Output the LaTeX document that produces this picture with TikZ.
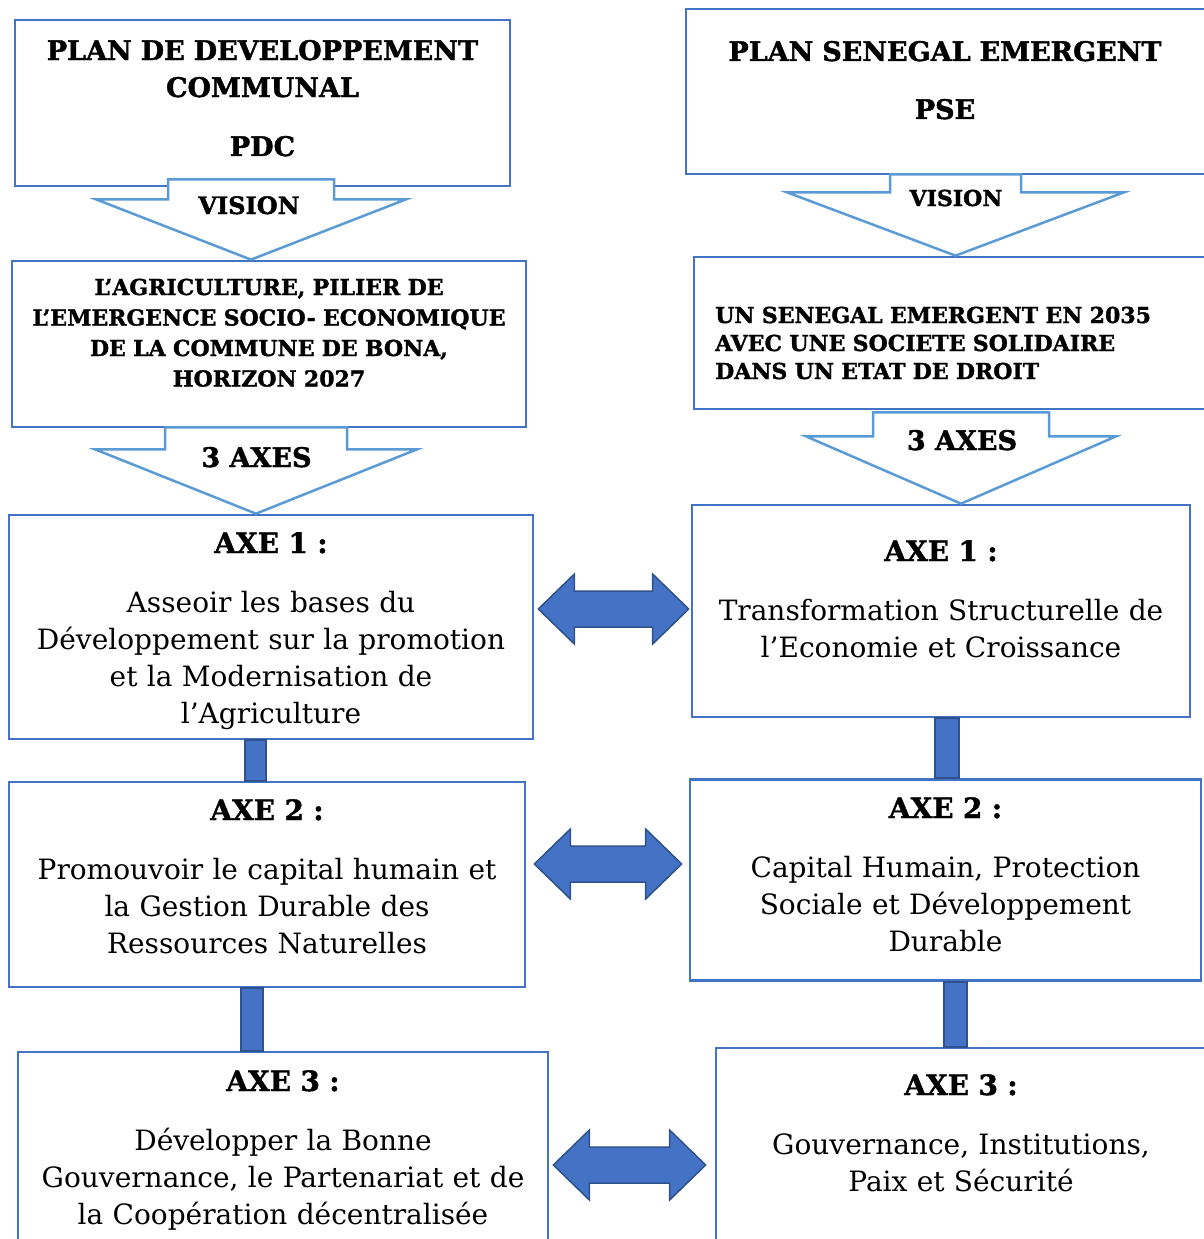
\documentclass[tikz,border=0pt]{standalone}
\usepackage{fontspec}
\setmainfont{DejaVu Serif}[BoldFeatures={FakeBold=1.5}]
\usetikzlibrary{calc}
\definecolor{boxblue}{HTML}{4472C4}
\definecolor{lineblue}{HTML}{5B9BD5}
\definecolor{darkblue}{HTML}{2F528F}
\tikzstyle{frame}=[draw=boxblue,line width=2.7pt,rectangle,fill=white]
\tikzstyle{head}=[inner sep=0pt,align=center,font=\bfseries\fontsize{27}{37}\selectfont]
\tikzstyle{vis}=[inner sep=0pt,font=\bfseries\fontsize{22}{30.5}\selectfont]
\tikzstyle{axe}=[inner sep=0pt,align=center,font=\fontsize{28}{37}\selectfont]
\tikzstyle{tag}=[inner sep=0pt,font=\bfseries\fontsize{27}{30}\selectfont]
\tikzstyle{vec}=[draw=lineblue,line width=2.5pt,fill=white]
\tikzstyle{bar}=[draw=darkblue,line width=2pt,fill=boxblue]
\tikzstyle{twoway}=[draw=darkblue,line width=1.5pt,fill=boxblue]

% block arrow: upper box, tip, half stem, half head, stem top above box, shoulder below box
\newcommand{\vecdown}[6]{%
  \draw[vec] let \p1=(#1.south), \p2=(#2) in
    (\x2-#3,\y1+#5) -- (\x2+#3,\y1+#5) -- (\x2+#3,\y1-#6) -- (\x2+#4,\y1-#6)
    -- (\x2,\y2) -- (\x2-#4,\y1-#6) -- (\x2-#3,\y1-#6) -- cycle;}
% double arrow between two points
\newcommand{\twoway}[2]{%
  \draw[twoway] let \p1=(#1), \p2=(#2) in
    (\x1,\y1) -- (\x1+36pt,\y1+35pt) -- (\x1+36pt,\y1+18pt) -- (\x2-36pt,\y1+18pt)
    -- (\x2-36pt,\y1+35pt) -- (\x2,\y1) -- (\x2-36pt,\y1-35pt) -- (\x2-36pt,\y1-18pt)
    -- (\x1+36pt,\y1-18pt) -- (\x1+36pt,\y1-35pt) -- cycle;}

\begin{document}
\begin{tikzpicture}[x=1pt,y=-1pt]
\useasboundingbox (0,0) rectangle (1204,1239);
\clip (0,0) rectangle (1204,1239);

% PDC side
\node[frame,minimum width=495pt,minimum height=166pt] (pdc) at (262.5,103) {};
\node[frame,minimum width=514pt,minimum height=166pt] (pdcvis) at (269,344) {};
\node[frame,minimum width=524pt,minimum height=224pt] (axe1L) at (271,627) {};
\node[frame,minimum width=516pt,minimum height=205pt] (axe2L) at (267,884.5) {};
\node[frame,minimum width=530pt,minimum height=196pt] (axe3L) at (283,1150) {};

% PSE side
\node[frame,minimum width=520pt,minimum height=165pt] (pse) at (946,91.5) {};
\node[frame,minimum width=512pt,minimum height=152pt] (psevis) at (950,333) {};
\node[frame,minimum width=498pt,minimum height=212pt] (axe1R) at (941,611) {};
\node[frame,minimum width=511pt,minimum height=201pt] (axe2R) at (945.5,880) {};
\node[frame,minimum width=490pt,minimum height=204pt] (axe3R) at (961,1150) {};

% block arrows
\vecdown{pdc}{pdcvis.north -| 251,0}{83pt}{155pt}{8pt}{12pt}
\vecdown{pdcvis}{axe1L.north -| 256,0}{91pt}{161pt}{1pt}{21pt}
\vecdown{pse}{psevis.north -| 955.5,0}{65.5pt}{168.5pt}{1pt}{17pt}
\vecdown{psevis}{axe1R.north -| 961,0}{88pt}{155pt}{-2pt}{26pt}

% bars
\draw[bar] (axe1L.south -| 245,0) rectangle (axe2L.north -| 266,0);
\draw[bar] (axe2L.south -| 241,0) rectangle (axe3L.north -| 263,0);
\draw[bar] (axe1R.south -| 935,0) rectangle (axe2R.north -| 959,0);
\draw[bar] (axe2R.south -| 944,0) rectangle (axe3R.north -| 967,0);

% double arrows
\twoway{$(axe1L.east |- 0,609)+(4,0)$}{$(axe1R.west |- 0,609)+(-2,0)$}
\twoway{$(axe2L.east |- 0,864)+(8,0)$}{$(axe2R.west |- 0,864)+(-7,0)$}
\twoway{$(axe3L.east |- 0,1165)+(4,0)$}{$(axe3R.west |- 0,1165)+(-9,0)$}

% texts
\node[head,anchor=base,text width=480pt] (pdc-t) at (262.5,60)
  {PLAN DE DEVELOPPEMENT\\COMMUNAL\\[22pt]PDC};
\node[tag,anchor=base,font=\bfseries\fontsize{24}{30}\selectfont] (vis1L) at (249,214) {VISION};
\node[vis,anchor=base,align=center,text width=500pt] (pdcvis-t) at (269,295)
  {L’AGRICULTURE, PILIER DE\\L’EMERGENCE SOCIO- ECONOMIQUE\\DE LA COMMUNE DE BONA,\\HORIZON 2027};
\node[tag,anchor=base] (axesL) at (256.5,467) {3 AXES};
\node[axe,anchor=base,text width=520pt] (axe1L-t) at (271,553)
  {\textbf{AXE 1 :}\\[22pt]Asseoir les bases du\\Développement sur la promotion\\et la Modernisation de\\l’Agriculture};
\node[axe,anchor=base,text width=510pt] (axe2L-t) at (267,820)
  {\textbf{AXE 2 :}\\[22pt]Promouvoir le capital humain et\\la Gestion Durable des\\Ressources Naturelles};
\node[axe,anchor=base,text width=520pt] (axe3L-t) at (283,1091)
  {\textbf{AXE 3 :}\\[22pt]Développer la Bonne\\Gouvernance, le Partenariat et de\\la Coopération décentralisée};

\node[head,anchor=base,text width=500pt] (pse-t) at (945,61)
  {PLAN SENEGAL EMERGENT\\[21pt]PSE};
\node[tag,anchor=base,font=\bfseries\fontsize{22}{30}\selectfont] (vis1R) at (956,206) {VISION};
\node[vis,anchor=base west,align=left,text width=480pt,font=\bfseries\fontsize{22}{28}\selectfont] (psevis-t) at (715,323)
  {UN SENEGAL EMERGENT EN 2035\\AVEC UNE SOCIETE SOLIDAIRE\\DANS UN ETAT DE DROIT};
\node[tag,anchor=base] (axesR) at (962,450) {3 AXES};
\node[axe,anchor=base,text width=490pt] (axe1R-t) at (941,561)
  {\textbf{AXE 1 :}\\[22pt]Transformation Structurelle de\\l’Economie et Croissance};
\node[axe,anchor=base,text width=500pt] (axe2R-t) at (945.5,818)
  {\textbf{AXE 2 :}\\[22pt]Capital Humain, Protection\\Sociale et Développement\\Durable};
\node[axe,anchor=base,text width=480pt] (axe3R-t) at (961,1095)
  {\textbf{AXE 3 :}\\[22pt]Gouvernance, Institutions,\\Paix et Sécurité};
\end{tikzpicture}
\end{document}
